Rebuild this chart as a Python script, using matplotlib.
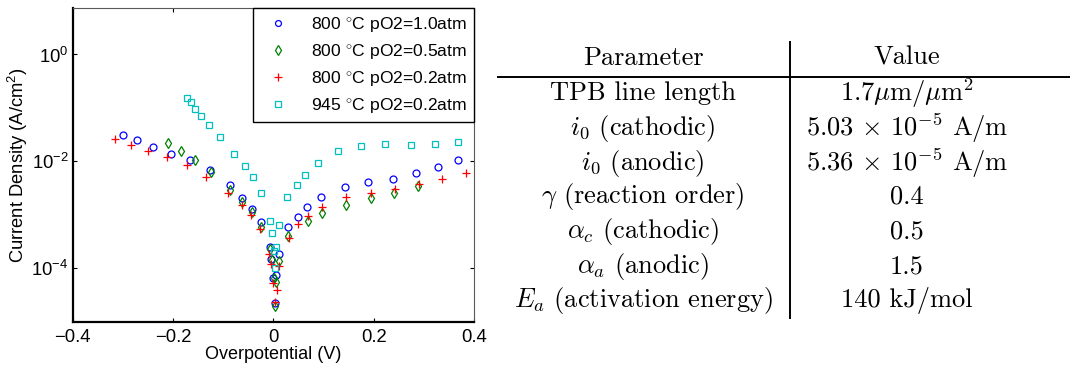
import matplotlib
matplotlib.use("Agg")
import matplotlib.pyplot as plt
import numpy as np

plt.rcParams['font.family'] = ['Liberation Sans', 'DejaVu Sans']
plt.rcParams['mathtext.fontset'] = 'custom'
plt.rcParams['mathtext.rm'] = 'Liberation Sans'
plt.rcParams['mathtext.it'] = 'Liberation Sans:italic'
plt.rcParams['mathtext.bf'] = 'Liberation Sans:bold'

# ---------------- data ----------------
# 800 C, pO2 = 1.0 atm
v_10 = [-0.299, -0.271, -0.240, -0.2045, -0.166, -0.127, -0.087, -0.062, -0.043, -0.0255,
        -0.0077, -0.0044, -0.001, 0.0023, 0.0056, 0.011, 0.030, 0.0487, 0.068, 0.095,
        0.142, 0.189, 0.2377, 0.2834, 0.328, 0.369]
i_10 = [0.0316, 0.0248, 0.0186, 0.0139, 0.0105, 0.00678, 0.0036, 0.00202, 0.0013, 7.2e-4,
        2.5e-4, 1.5e-4, 6.6e-5, 2.24e-5, 7.6e-5, 1.86e-4, 5.8e-4, 9.2e-4, 1.41e-3, 2.14e-3,
        3.3e-3, 4.04e-3, 4.73e-3, 5.96e-3, 7.7e-3, 0.0106]

# 800 C, pO2 = 0.5 atm
v_05 = [-0.211, -0.1846, -0.156, -0.1236, -0.087, -0.062, -0.043, -0.0255, -0.0077, -0.003,
        0.0003, 0.0056, 0.0023, 0.011, 0.030, 0.0687, 0.097, 0.1455, 0.194, 0.241, 0.288]
i_05 = [0.0218, 0.0158, 0.0106, 0.00622, 0.0029, 0.00175, 0.00111, 6.0e-4, 2.3e-4, 1.45e-4,
        6.6e-5, 5.5e-5, 1.94e-5, 1.39e-4, 4.04e-4, 7.8e-4, 1.09e-3, 1.51e-3, 2.05e-3, 2.59e-3,
        3.45e-3]

# 800 C, pO2 = 0.2 atm
v_02 = [-0.3165, -0.2847, -0.249, -0.2118, -0.173, -0.1335, -0.0905, -0.0633, -0.0447, -0.0268,
        -0.0089, -0.0044, -0.001, 0.0036, 0.0063, 0.011, 0.031, 0.050, 0.0687, 0.097,
        0.1455, 0.194, 0.243, 0.2895, 0.337, 0.3835]
i_02 = [0.0262, 0.0205, 0.0158, 0.0121, 0.0084, 0.00508, 0.00259, 0.00154, 0.0010, 5.4e-4,
        1.86e-4, 1.2e-4, 5.2e-5, 2.3e-5, 3.9e-5, 1.12e-4, 3.7e-4, 6.8e-4, 9.3e-4, 1.41e-3,
        2.14e-3, 2.55e-3, 3.03e-3, 3.76e-3, 4.67e-3, 5.96e-3]

# 945 C, pO2 = 0.2 atm
v_945 = [-0.173, -0.1647, -0.1554, -0.1435, -0.1276, -0.107, -0.0786, -0.0573, -0.0408, -0.0242,
         -0.007, -0.0023, 0.011, 0.0056, 0.001, 0.003, 0.0277, 0.0467, 0.064, 0.0885,
         0.1296, 0.1747, 0.2224, 0.2734, 0.322, 0.369]
i_945 = [0.152, 0.128, 0.0972, 0.0718, 0.0487, 0.0286, 0.0137, 0.00806, 0.0050, 0.00251,
         7.6e-4, 4.47e-4, 6.5e-4, 2.48e-4, 2.09e-4, 1.02e-4, 2.14e-3, 3.65e-3, 5.5e-3, 9.3e-3,
         0.0158, 0.0194, 0.0208, 0.0203, 0.0208, 0.0227]

labels = [r"800 $^{\circ}$C pO2=1.0atm", r"800 $^{\circ}$C pO2=0.5atm",
          r"800 $^{\circ}$C pO2=0.2atm", r"945 $^{\circ}$C pO2=0.2atm"]

# table contents
params = ["TPB line length", r"$i_0$ (cathodic)", r"$i_0$ (anodic)",
          r"$\gamma$ (reaction order)", r"$\alpha_c$ (cathodic)",
          r"$\alpha_a$ (anodic)", r"$E_a$ (activation energy)"]
values = [r"1.7$\mu$m/$\mu$m$^2$", r"5.03$\,\times\,$10$^{-5}$ A/m", r"5.36$\,\times\,$10$^{-5}$ A/m",
          "0.4", "0.5", "1.5", "140 kJ/mol"]

# ---------------- figure ----------------
fig = plt.figure(figsize=(10.70, 3.65), dpi=100)
ax = fig.add_axes([0.068, 0.119, 0.375, 0.859])

ax.plot(v_10, i_10, 'o', ls='none', mfc='none', mec=(0, 0, 1), ms=5, mew=0.9, label=labels[0])
ax.plot(v_05, i_05, 'd', ls='none', mfc='none', mec=(0, 0.5, 0), ms=5.5, mew=0.9, label=labels[1])
ax.plot(v_02, i_02, '+', ls='none', color=(1, 0, 0), ms=6, mew=0.9, label=labels[2])
ax.plot(v_945, i_945, 's', ls='none', mfc='none', mec=(0, 0.75, 0.75), ms=4.5, mew=0.9, label=labels[3])

ax.set_yscale('log')
ax.set_xlim(-0.4, 0.4)
ax.set_ylim(1e-5, 10 ** 0.87)
ax.set_xticks([-0.4, -0.2, 0, 0.2, 0.4])
ax.set_xticklabels(["\u22120.4", "\u22120.2", "0", "0.2", "0.4"])
ax.set_yticks([1e-4, 1e-2, 1e0])
ax.set_yticklabels([r"$10^{-4}$", r"$10^{-2}$", r"$10^{0}$"])
ax.yaxis.set_minor_locator(matplotlib.ticker.NullLocator())
ax.tick_params(direction='in', top=True, right=True, length=3, labelsize=13.3)
ax.tick_params(axis='x', pad=5)
ax.tick_params(axis='y', pad=3)

for s in ['left', 'bottom']:
    ax.spines[s].set_linewidth(1.6)
for s in ['top', 'right']:
    ax.spines[s].set_linewidth(0.8)
    ax.spines[s].set_color('0.35')

ax.set_xlabel("Overpotential (V)", fontsize=13, labelpad=0.5)
ax.set_ylabel(r"Current Density (A/cm$^2$)", fontsize=13.2, labelpad=1)

leg = ax.legend(loc='upper right', fontsize=12.6, frameon=True, fancybox=False,
                edgecolor='black', framealpha=1, handlelength=2.0, handletextpad=0.9,
                labelspacing=0.45, borderpad=0.4, borderaxespad=0.0, markerscale=0.85)
leg.get_frame().set_linewidth(1.0)

# ---------------- table ----------------
tfont = dict(family='cmr10', math_fontfamily='cm', fontsize=19, ha='center', va='center')
xp, xv = 643 / 1070, 907 / 1070
y_head = 1 - 58 / 365
fig.text(xp, y_head, "Parameter", **tfont)
fig.text(xv, y_head, "Value", **tfont)
row_y = [93.3, 128.3, 163.3, 196.7, 231.7, 266.7, 300.5]
for name, val, yy in zip(params, values, row_y):
    fig.text(xp, 1 - yy / 365, name, **tfont)
    fig.text(xv, 1 - yy / 365, val, **tfont)

fig.add_artist(plt.Line2D([498 / 1070, 1.0], [1 - 76.7 / 365] * 2, color='black', lw=1.4,
                          transform=fig.transFigure))
fig.add_artist(plt.Line2D([790 / 1070] * 2, [1 - 42 / 365, 1 - 318 / 365], color='black', lw=1.4,
                          transform=fig.transFigure))

fig.savefig("out.png", dpi=100)
